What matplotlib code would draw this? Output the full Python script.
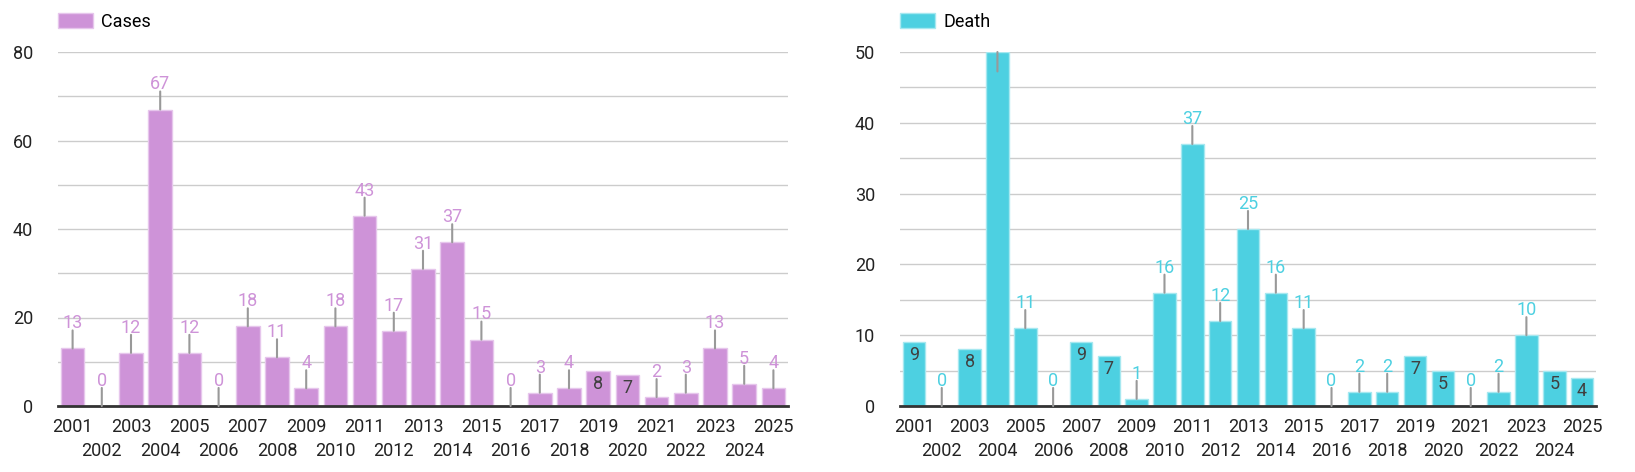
import numpy as np
import matplotlib.pyplot as plt
from matplotlib.ticker import MultipleLocator, FixedLocator

plt.rcParams['font.family'] = ['Roboto', 'DejaVu Sans']

# data
years = [str(y) for y in range(2001, 2026)]
cases = [13, 0, 12, 67, 12, 0, 18, 11, 4, 18, 43, 17, 31, 37, 15, 0, 3, 4, 8, 7, 2, 3, 13, 5, 4]
deaths = [9, 0, 8, 50, 11, 0, 9, 7, 1, 16, 37, 12, 25, 16, 11, 0, 2, 2, 7, 5, 0, 2, 10, 5, 4]
# which labels google put inside the bar
cases_inside = ['2019', '2020']
deaths_inside = ['2001', '2003', '2007', '2008', '2019', '2020', '2024', '2025']

fig = plt.figure(figsize=(16.35, 4.72), dpi=100)
axL = fig.add_axes([58/1635, 66/472, 730/1635, 354/472])
axR = fig.add_axes([900/1635, 66/472, 696/1635, 354/472])

def panel(ax, vals, inside, name, col, edge, ymax, major, minor):
    x = np.arange(len(years))
    ax.bar(x, vals, width=0.81, color=col, edgecolor=edge, linewidth=1, label=name, zorder=2)
    ax.set_xlim(-0.5, len(years) - 0.5)
    ax.set_ylim(0, ymax)
    ax.yaxis.set_major_locator(MultipleLocator(major))
    ax.yaxis.set_minor_locator(MultipleLocator(minor))
    ax.grid(which='both', axis='y', color='#cccccc', lw=1, zorder=0)
    ax.set_axisbelow(True)
    for s in ['top', 'right', 'left']:
        ax.spines[s].set_visible(False)
    ax.spines['bottom'].set_color('#333333')
    ax.spines['bottom'].set_linewidth(2)
    ax.spines['bottom'].set_zorder(3)
    ax.tick_params(axis='both', which='both', length=0, labelsize=13, colors='#222222')
    ax.tick_params(axis='y', pad=18)
    # odd years on first row (major), even years on second row (minor)
    ax.set_xticks(x[::2])
    ax.set_xticklabels(years[::2])
    ax.xaxis.set_minor_locator(FixedLocator(x[1::2]))
    ax.set_xticklabels(years[1::2], minor=True)
    ax.tick_params(axis='x', which='major', pad=9)
    ax.tick_params(axis='x', which='minor', pad=26)
    for i, v in enumerate(vals):
        if v >= ymax:
            # label would be off the chart, only the stem is left
            ax.annotate('', xy=(i, v), xytext=(0, -14), textcoords='offset points',
                        arrowprops=dict(arrowstyle='-', color='#999999', lw=1.5, shrinkA=0, shrinkB=0), zorder=4)
        elif years[i] in inside:
            ax.annotate(str(v), xy=(i, v), xytext=(0, -13), textcoords='offset points',
                        ha='center', va='baseline', fontsize=13, color='#404040', zorder=4)
        else:
            ax.annotate('', xy=(i, v), xytext=(0, 13), textcoords='offset points',
                        arrowprops=dict(arrowstyle='-', color='#999999', lw=1.5, shrinkA=0, shrinkB=0), zorder=4)
            ax.annotate(str(v), xy=(i, v), xytext=(0, 14.5), textcoords='offset points',
                        ha='center', va='baseline', fontsize=13, color=col, zorder=4)
    ax.legend(loc='lower left', bbox_to_anchor=(0, 1.06), borderaxespad=0, borderpad=0,
              frameon=False, handlelength=1.95, handleheight=0.95, handletextpad=0.45, fontsize=13)

panel(axL, cases, cases_inside, 'Cases', '#ce93d8', '#e6c6ec', 80, 20, 10)
panel(axR, deaths, deaths_inside, 'Death', '#4dd0e1', '#a6e8f0', 50, 10, 5)

fig.savefig('out.png', dpi=100)
